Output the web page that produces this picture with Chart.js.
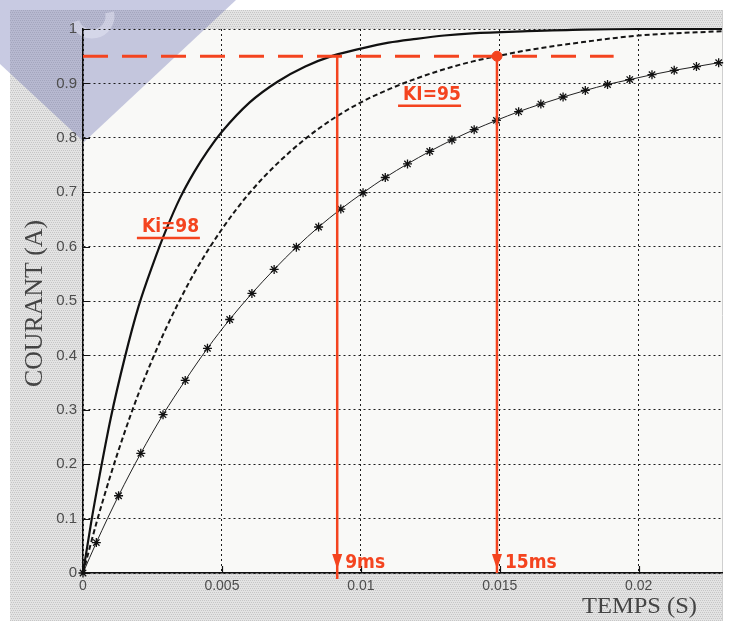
<!DOCTYPE html>
<html>
<head>
<meta charset="utf-8">
<script src="https://cdn.jsdelivr.net/npm/chart.js@4.4.0/dist/chart.umd.min.js"></script>
<style>
html, body { margin: 0; padding: 0; background: #fff; }
canvas { display: block; }
</style>
</head>
<body>
<canvas id="courantChart" width="730" height="625"></canvas>
<script>
// courbes : temps (s) / courant (A)
const tempsKi98 = [0, 0.0003, 0.0006, 0.001, 0.0015, 0.002, 0.0025, 0.003, 0.0035, 0.004, 0.0045, 0.005,
  0.006, 0.007, 0.008, 0.009, 0.010, 0.011, 0.012, 0.013, 0.014, 0.016, 0.018, 0.020, 0.023];
const courantKi98 = [0, 0.095, 0.18, 0.285, 0.395, 0.49, 0.565, 0.632, 0.69, 0.737, 0.777, 0.811,
  0.865, 0.903, 0.931, 0.951, 0.964, 0.975, 0.982, 0.988, 0.992, 0.996, 0.999, 1, 1];

const tempsKi95 = [0, 0.0005, 0.001, 0.0015, 0.002, 0.0025, 0.003, 0.004, 0.005, 0.006, 0.007, 0.008,
  0.009, 0.010, 0.011, 0.012, 0.013, 0.014, 0.015, 0.016, 0.018, 0.020, 0.023];
const courantKi95 = [0, 0.095, 0.181, 0.259, 0.33, 0.393, 0.451, 0.551, 0.632, 0.699, 0.753, 0.798,
  0.835, 0.865, 0.889, 0.909, 0.926, 0.94, 0.951, 0.961, 0.976, 0.988, 0.996];

const tempsEtoiles = [0, 0.00048, 0.00128, 0.00208, 0.00288, 0.00368, 0.00448, 0.00528, 0.00608, 0.00688,
  0.00768, 0.00848, 0.00928, 0.01008, 0.01088, 0.01168, 0.01248, 0.01328, 0.01408, 0.01488,
  0.01568, 0.01648, 0.01728, 0.01808, 0.01888, 0.01968, 0.02048, 0.02128, 0.02208, 0.02288];
const courantEtoiles = [0, 0.056, 0.142, 0.220, 0.291, 0.354, 0.413, 0.466, 0.514, 0.558,
  0.599, 0.636, 0.669, 0.699, 0.727, 0.752, 0.775, 0.796, 0.815, 0.832,
  0.848, 0.862, 0.875, 0.887, 0.898, 0.907, 0.916, 0.924, 0.931, 0.938];

const xTicks = [0, 0.005, 0.01, 0.015, 0.02];
const yTicks = [0, 0.1, 0.2, 0.3, 0.4, 0.5, 0.6, 0.7, 0.8, 0.9, 1];

// annotations rouges (a la main)
const seuil = 0.95;
const finSeuil = 0.0191;
const tempsReponse = [0.00915, 0.0149];
const notesTemps = ['9ms', '15ms'];
const notesKi = ['Ki=98', 'KI=95'];

const rouge = '#f4441f';

function pts(xs, ys) {
  return xs.map((x, i) => ({ x: x, y: ys[i] }));
}

function stipple() {
  const c = document.createElement('canvas');
  c.width = 4; c.height = 4;
  const g = c.getContext('2d');
  g.fillStyle = '#e3e3e3';
  g.fillRect(0, 0, 4, 4);
  g.fillStyle = '#c6c6c6';
  g.fillRect(0, 0, 1, 1); g.fillRect(2, 0, 1, 1);
  g.fillRect(1, 2, 1, 1); g.fillRect(3, 2, 1, 1);
  return c;
}

const decor = {
  id: 'decor',
  beforeDraw(chart) {
    const ctx = chart.ctx;
    const a = chart.chartArea;
    ctx.save();
    ctx.fillStyle = '#fff';
    ctx.fillRect(0, 0, chart.width, chart.height);
    ctx.fillStyle = ctx.createPattern(stipple(), 'repeat');
    ctx.fillRect(10, 10, a.right - 10, 611);
    ctx.fillStyle = '#f9f9f7';
    ctx.fillRect(a.left, a.top, a.right - a.left, a.bottom - a.top);
    // filigrane bleute
    ctx.fillStyle = 'rgba(110,116,178,0.38)';
    ctx.beginPath();
    ctx.moveTo(0, 0); ctx.lineTo(236, 0); ctx.lineTo(84, 142); ctx.lineTo(0, 64);
    ctx.closePath();
    ctx.fill();
    ctx.strokeStyle = 'rgba(235,236,248,0.45)';
    ctx.lineWidth = 9;
    ctx.beginPath();
    ctx.arc(92, 16, 18, -0.2, Math.PI * 0.9);
    ctx.stroke();
    ctx.strokeStyle = '#cfcfcf';
    ctx.lineWidth = 1;
    ctx.beginPath();
    ctx.moveTo(a.right + 0.5, 10); ctx.lineTo(a.right + 0.5, 621);
    ctx.stroke();
    ctx.restore();
  },
  afterDraw(chart) {
    const ctx = chart.ctx;
    const a = chart.chartArea;
    const xs = chart.scales.x, ys = chart.scales.y;
    ctx.save();
    // graduations interieures
    ctx.strokeStyle = '#111';
    ctx.lineWidth = 1.2;
    ctx.beginPath();
    yTicks.forEach(v => {
      const py = Math.round(ys.getPixelForValue(v)) + 0.5;
      ctx.moveTo(a.left, py); ctx.lineTo(a.left + 7, py);
    });
    xTicks.forEach(v => {
      const px = Math.round(xs.getPixelForValue(v)) + 0.5;
      ctx.moveTo(px, a.bottom); ctx.lineTo(px, a.bottom - 7);
    });
    ctx.stroke();

    // titres d'axes
    ctx.fillStyle = '#444';
    ctx.textBaseline = 'alphabetic';
    ctx.font = '24px "Liberation Serif"';
    let w = ctx.measureText('TEMPS (S)').width;
    ctx.save();
    ctx.translate(582, 613);
    ctx.scale(115 / w, 1);
    ctx.fillText('TEMPS (S)', 0, 0);
    ctx.restore();
    ctx.font = '26px "Liberation Serif"';
    w = ctx.measureText('COURANT (A)').width;
    ctx.save();
    ctx.translate(42, 387);
    ctx.rotate(-Math.PI / 2);
    ctx.scale(167 / w, 1);
    ctx.fillText('COURANT (A)', 0, 0);
    ctx.restore();

    // fleches et notes rouges
    ctx.fillStyle = rouge;
    ctx.strokeStyle = rouge;
    tempsReponse.forEach((t, i) => {
      const px = xs.getPixelForValue(t);
      const tip = ys.getPixelForValue(0) - 4;
      ctx.beginPath();
      ctx.moveTo(px - 5, tip - 15); ctx.lineTo(px + 5, tip - 15); ctx.lineTo(px, tip);
      ctx.closePath();
      ctx.fill();
      ctx.font = 'bold 19px "Liberation Sans Narrow", "DejaVu Sans Condensed", sans-serif';
      ctx.fillText(notesTemps[i], px + 8, tip - 1);
    });
    ctx.font = 'bold 19px "Liberation Sans Narrow", "DejaVu Sans Condensed", sans-serif';
    ctx.lineWidth = 2.5;
    const k1x = xs.getPixelForValue(0.00212), k1y = ys.getPixelForValue(0.627);
    ctx.fillText(notesKi[0], k1x, k1y);
    ctx.beginPath();
    ctx.moveTo(k1x - 5, k1y + 6); ctx.lineTo(k1x + 58, k1y + 6);
    ctx.stroke();
    const k2x = xs.getPixelForValue(0.01152), k2y = ys.getPixelForValue(0.870);
    ctx.fillText(notesKi[1], k2x, k2y);
    ctx.beginPath();
    ctx.moveTo(k2x - 5, k2y + 6); ctx.lineTo(k2x + 58, k2y + 6);
    ctx.stroke();
    ctx.restore();
  }
};

const ctx = document.getElementById('courantChart').getContext('2d');
const chart = new Chart(ctx, {
  type: 'line',
  data: {
    datasets: [
      {
        data: [{ x: tempsReponse[1], y: seuil }],
        showLine: false,
        pointRadius: 5,
        pointBackgroundColor: rouge,
        pointBorderColor: rouge
      },
      {
        data: [{ x: 0, y: seuil }, { x: finSeuil, y: seuil }],
        borderColor: rouge,
        borderWidth: 3,
        borderDash: [25, 14],
        pointRadius: 0
      },
      {
        data: [{ x: tempsReponse[0], y: seuil }, { x: tempsReponse[0], y: -0.012 }],
        borderColor: rouge,
        borderWidth: 2.5,
        pointRadius: 0
      },
      {
        data: [{ x: tempsReponse[1], y: seuil }, { x: tempsReponse[1], y: 0 }],
        borderColor: rouge,
        borderWidth: 2.5,
        pointRadius: 0
      },
      {
        data: pts(tempsKi98, courantKi98),
        borderColor: '#111',
        borderWidth: 2.2,
        pointRadius: 0,
        cubicInterpolationMode: 'monotone'
      },
      {
        data: pts(tempsKi95, courantKi95),
        borderColor: '#151515',
        borderWidth: 2,
        borderDash: [5, 3],
        pointRadius: 0,
        cubicInterpolationMode: 'monotone'
      },
      {
        data: pts(tempsEtoiles, courantEtoiles),
        borderColor: '#222',
        borderWidth: 1,
        pointStyle: 'star',
        pointRadius: 4.5,
        pointBorderWidth: 1.3,
        pointBorderColor: '#111',
        cubicInterpolationMode: 'monotone'
      }
    ]
  },
  options: {
    responsive: false,
    animation: false,
    devicePixelRatio: 1,
    clip: 6,
    layout: { padding: { left: 0, right: 8, top: 29, bottom: 0 } },
    plugins: { legend: { display: false }, tooltip: { enabled: false } },
    scales: {
      x: {
        type: 'linear',
        min: 0,
        max: 0.023,
        afterBuildTicks: s => { s.ticks = xTicks.map(v => ({ value: v })); },
        afterFit: s => { s.height = 52; },
        ticks: {
          autoSkip: false,
          maxRotation: 0,
          padding: 5,
          color: '#4d4d4d',
          font: { family: '"Liberation Sans", Arial, sans-serif', size: 14 },
          callback: v => String(Number(v.toFixed(4)))
        },
        grid: { color: '#1c1c1c', lineWidth: 1, drawTicks: false },
        border: { display: true, color: '#111', width: 1.5, dash: [2, 3] }
      },
      y: {
        min: 0,
        max: 1,
        afterBuildTicks: s => { s.ticks = yTicks.map(v => ({ value: v })); },
        afterFit: s => { s.width = 83; },
        ticks: {
          padding: 6,
          color: '#4d4d4d',
          font: { family: '"Liberation Sans", Arial, sans-serif', size: 15 },
          callback: v => String(Number(v.toFixed(2)))
        },
        grid: { color: '#1c1c1c', lineWidth: 1, drawTicks: false },
        border: { display: true, color: '#111', width: 1.5, dash: [2, 3] }
      }
    }
  },
  plugins: [decor]
});
</script>
</body>
</html>
